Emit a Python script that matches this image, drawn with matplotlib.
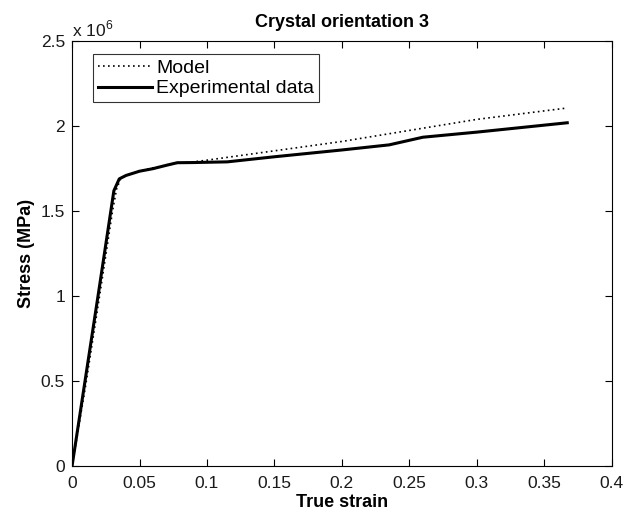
import matplotlib
matplotlib.use('Agg')
import matplotlib.pyplot as plt
from matplotlib.ticker import FuncFormatter, MultipleLocator

plt.rcParams['font.family'] = ['Liberation Sans', 'DejaVu Sans']
plt.rcParams['mathtext.fontset'] = 'custom'
plt.rcParams['mathtext.rm'] = 'Liberation Sans'

# values (stress, x 10^6)
model_strain = [0.0, 0.010, 0.020, 0.030, 0.033, 0.036, 0.040, 0.050, 0.060, 0.075,
                0.090, 0.100, 0.150, 0.200, 0.250, 0.300, 0.365]
model_stress = [0.0, 0.47e6, 0.98e6, 1.50e6, 1.63e6, 1.69e6, 1.71e6, 1.735e6, 1.755e6, 1.78e6,
                1.79e6, 1.80e6, 1.855e6, 1.91e6, 1.975e6, 2.04e6, 2.105e6]

exp_strain = [0.0, 0.010, 0.020, 0.031, 0.035, 0.040, 0.050, 0.060, 0.070, 0.078,
              0.090, 0.115, 0.150, 0.200, 0.235, 0.260, 0.300, 0.367]
exp_stress = [0.0, 0.52e6, 1.04e6, 1.62e6, 1.69e6, 1.71e6, 1.735e6, 1.75e6, 1.77e6, 1.785e6,
              1.786e6, 1.79e6, 1.82e6, 1.86e6, 1.89e6, 1.935e6, 1.965e6, 2.02e6]

fig = plt.figure(figsize=(6.32, 5.15), dpi=100)
ax = fig.add_axes([0.114, 0.095, 0.854, 0.825])

ax.plot(model_strain, model_stress, color='black', linestyle=(0, (1, 2)), linewidth=1.2, label='Model')
ax.plot(exp_strain, exp_stress, color='black', linestyle='-', linewidth=2.2, label='Experimental data')

ax.set_xlim(0, 0.4)
ax.set_ylim(0, 2.5e6)
ax.xaxis.set_major_locator(MultipleLocator(0.05))
ax.yaxis.set_major_locator(MultipleLocator(0.5e6))
ax.xaxis.set_major_formatter(FuncFormatter(lambda v, p: f'{v:g}'))
ax.yaxis.set_major_formatter(FuncFormatter(lambda v, p: f'{v / 1e6:g}'))
ax.tick_params(direction='in', length=5, width=0.8, labelsize=12.5, top=True, right=True,
               labelcolor='#1a1a1a')
ax.tick_params(axis='x', pad=7)
ax.tick_params(axis='y', pad=5)
for s in ax.spines.values():
    s.set_linewidth(0.8)

ax.text(0.0, 1.005, r'x 10$^{6}$', transform=ax.transAxes, fontsize=12.5,
        ha='left', va='bottom', color='#1a1a1a')

ax.set_title('Crystal orientation 3', fontsize=13, fontweight='bold', pad=10)
ax.set_xlabel('True strain', fontsize=13, fontweight='bold', labelpad=2)
ax.set_ylabel('Stress (MPa)', fontsize=13, fontweight='bold', labelpad=4)

leg = ax.legend(loc='upper left', bbox_to_anchor=(0.039, 0.969), fontsize=14,
                frameon=True, fancybox=False, edgecolor='black', handlelength=2.8,
                handletextpad=0.2, borderpad=0.25, labelspacing=0.15, borderaxespad=0)
leg.get_frame().set_linewidth(0.8)

fig.savefig('out.png', dpi=100)
